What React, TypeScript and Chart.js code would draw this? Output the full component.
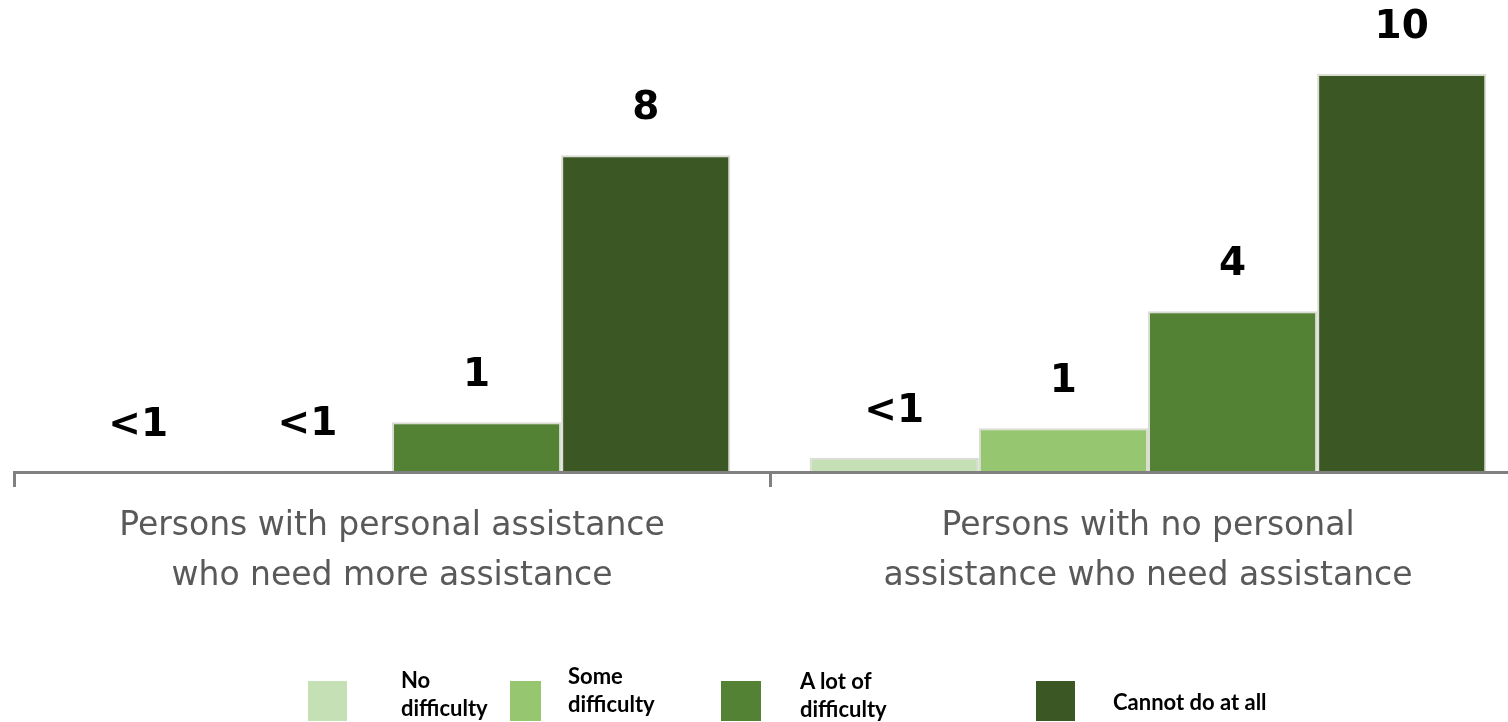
import React, { useEffect, useRef } from "react";
import { Chart, registerables } from "chart.js";

Chart.register(...registerables);

const categories: string[][] = [
  ["Persons with personal assistance", "who need more assistance"],
  ["Persons with no personal", "assistance who need assistance"],
];
const seriesNames: string[] = ["No difficulty", "Some difficulty", "A lot of difficulty", "Cannot do at all"];
const legendLines: string[][] = [["No", "difficulty"], ["Some", "difficulty"], ["A lot of", "difficulty"], ["Cannot do at all"]];
const seriesColors: string[] = ["#c5e0b4", "#97c671", "#548235", "#3a5724"];
const noDifficulty: number[] = [0, 0.35];
const someDifficulty: number[] = [0.03, 1.1];
const aLotOfDifficulty: number[] = [1.25, 4.04];
const cannotDoAtAll: number[] = [7.96, 10.0];
const noDifficultyLabels: string[] = ["<1", "<1"];
const someDifficultyLabels: string[] = ["<1", "1"];
const aLotOfDifficultyLabels: string[] = ["1", "4"];
const cannotDoAtAllLabels: string[] = ["8", "10"];

const seriesValues = [noDifficulty, someDifficulty, aLotOfDifficulty, cannotDoAtAll];
const seriesLabels = [noDifficultyLabels, someDifficultyLabels, aLotOfDifficultyLabels, cannotDoAtAllLabels];

// legend layout (box position/size, text position)
const legendBoxes = [
  { x: 308, w: 39, tx: 401, ty: 666 },
  { x: 510, w: 31, tx: 568, ty: 662 },
  { x: 721, w: 40, tx: 800, ty: 667 },
  { x: 1036, w: 39, tx: 1113, ty: 688 },
];

const valueLabelPlugin = {
  id: "valueLabels",
  afterDatasetsDraw(chart: any) {
    const ctx = chart.ctx;
    ctx.save();
    ctx.font = "bold 39px 'DejaVu Sans'";
    ctx.fillStyle = "#000000";
    ctx.textAlign = "center";
    ctx.textBaseline = "alphabetic";
    chart.data.datasets.forEach((ds: any, di: number) => {
      const meta = chart.getDatasetMeta(di);
      meta.data.forEach((bar: any, i: number) => {
        const txt = seriesLabels[di][i];
        ctx.fillText(txt, bar.x, bar.y - 36);
      });
    });
    ctx.restore();
  },
};

export default function App() {
  const ref = useRef<HTMLCanvasElement>(null);
  useEffect(() => {
    if (!ref.current) return;
    const chart = new Chart(ref.current, {
      type: "bar",
      data: {
        labels: categories,
        datasets: seriesNames.map((name, i) => ({
          label: name,
          data: seriesValues[i],
          backgroundColor: seriesColors[i],
          borderColor: "rgba(205,210,196,0.75)",
          borderWidth: { top: 2, left: 2, right: 2, bottom: 0 },
          borderSkipped: "bottom",
          categoryPercentage: 0.895,
          barPercentage: 1.0,
        })),
      },
      options: {
        responsive: false,
        animation: false,
        devicePixelRatio: 1,
        layout: { padding: { left: 14, right: 4, top: 0, bottom: 110 } },
        plugins: { legend: { display: false }, tooltip: { enabled: false } },
        scales: {
          x: {
            grid: {
              display: true,
              drawOnChartArea: false,
              drawTicks: true,
              tickLength: 15,
              color: "#808080",
              lineWidth: 3,
              offset: true,
            },
            border: { display: true, color: "#808080", width: 3, z: 1 },
            ticks: {
              color: "#595959",
              font: { family: "'DejaVu Sans'", size: 33, lineHeight: 1.5 },
              padding: 15,
              autoSkip: false,
              maxRotation: 0,
              minRotation: 0,
            },
            afterFit: (scale: any) => {
              scale.height = 140;
            },
          },
          y: {
            display: false,
            min: 0,
            max: 11.86,
          },
        },
      },
      plugins: [valueLabelPlugin],
    });
    return () => chart.destroy();
  }, []);

  return (
    <div style={{ position: "absolute", left: 0, top: 0, width: 1508, height: 722, overflow: "hidden", background: "#ffffff" }}>
      <canvas ref={ref} width={1530} height={722} style={{ position: "absolute", left: 0, top: 0, width: 1530, height: 722 }} />
      {legendBoxes.map((b, i) => (
        <React.Fragment key={i}>
          <div style={{ position: "absolute", left: b.x, top: 681, width: b.w, height: 40, background: seriesColors[i] }} />
          <div
            style={{
              position: "absolute",
              left: b.tx,
              top: b.ty,
              fontFamily: "Lato, sans-serif",
              fontWeight: 700,
              fontSize: 22,
              lineHeight: "28px",
              color: "#000000",
              whiteSpace: "nowrap",
            }}
          >
            {legendLines[i].map((l, j) => (
              <div key={j}>{l}</div>
            ))}
          </div>
        </React.Fragment>
      ))}
    </div>
  );
}
